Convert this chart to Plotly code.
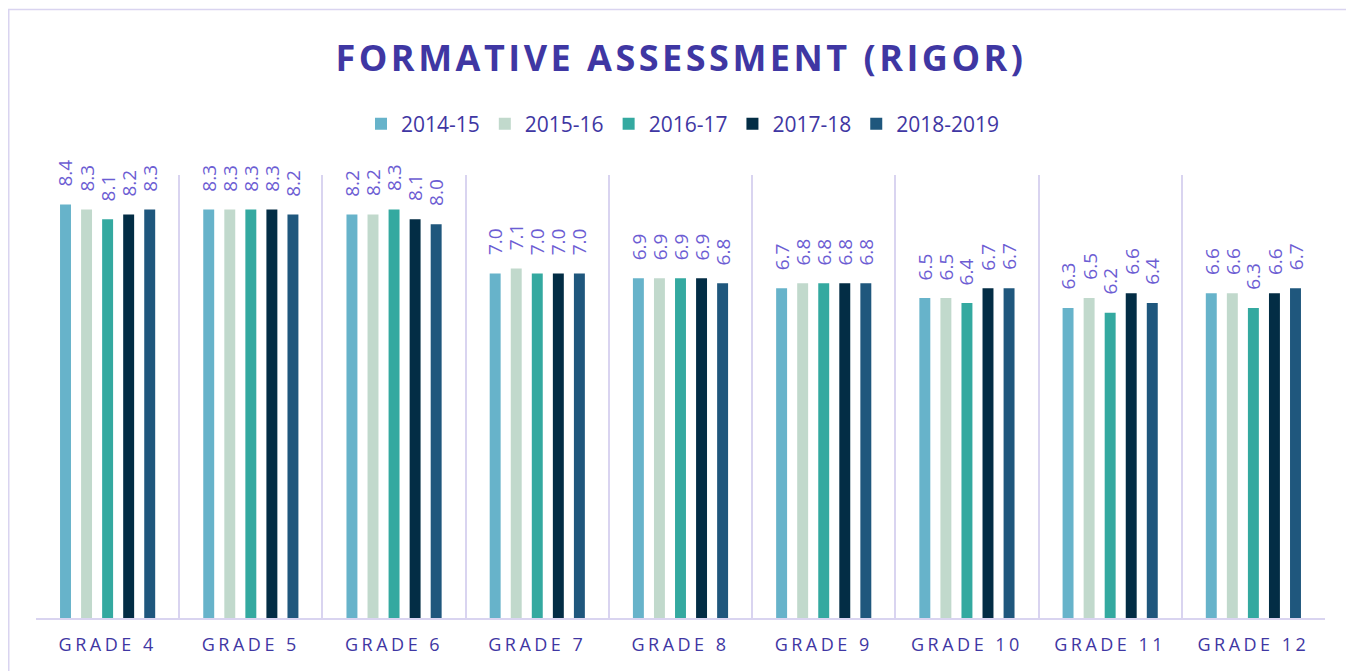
import plotly.graph_objects as go

categories = ["GRADE 4", "GRADE 5", "GRADE 6", "GRADE 7", "GRADE 8",
              "GRADE 9", "GRADE 10", "GRADE 11", "GRADE 12"]
series_names = ["2014-15", "2015-16", "2016-17", "2017-18", "2018-2019"]
v_2014_15 = [8.4, 8.3, 8.2, 7.0, 6.9, 6.7, 6.5, 6.3, 6.6]
v_2015_16 = [8.3, 8.3, 8.2, 7.1, 6.9, 6.8, 6.5, 6.5, 6.6]
v_2016_17 = [8.1, 8.3, 8.3, 7.0, 6.9, 6.8, 6.4, 6.2, 6.3]
v_2017_18 = [8.2, 8.3, 8.1, 7.0, 6.9, 6.8, 6.7, 6.6, 6.6]
v_2018_2019 = [8.3, 8.2, 8.0, 7.0, 6.8, 6.8, 6.7, 6.4, 6.7]
series_values = [v_2014_15, v_2015_16, v_2016_17, v_2017_18, v_2018_2019]
colors = ["#67B3CA", "#C1D9CC", "#34A9A0", "#032D45", "#1F577D"]

TITLE_C = "#3F37A3"
LABEL_C = "#6C5DD3"
GRID_C = "#D9D4F0"

# the page body adds an 8px offset; figure sized to fit the window
W, H = 1346, 663
ml, mr, mt, mb = 28, 29, 167, 53
pw, ph = W - ml - mr, H - mt - mb
bargap, bargroupgap = 0.265, 0.48
n = len(series_names)
slot = pw / len(categories) * (1 - bargap) / n

fig = go.Figure()
for name, vals, col in zip(series_names, series_values, colors):
    fig.add_trace(go.Bar(
        name=name, x=categories, y=vals, marker_color=col,
        marker_line_width=0,
    ))

for i, vals in enumerate(series_values):
    for c, v in zip(categories, vals):
        fig.add_annotation(
            x=c, y=v, xref="x", yref="y", text=f"{v:.1f}",
            showarrow=False, textangle=-90,
            xanchor="center", yanchor="bottom",
            xshift=(i - (n - 1) / 2) * slot, yshift=16,
            font=dict(family="Open Sans", size=19, color=LABEL_C),
        )

ticktext = [f'<span style="letter-spacing:3.5px">{c}</span>' for c in categories]

fig.update_layout(
    width=W, height=H,
    margin=dict(l=ml, r=mr, t=mt, b=mb),
    paper_bgcolor="white", plot_bgcolor="white",
    barmode="group", bargap=bargap, bargroupgap=bargroupgap,
    title=dict(text='<b><span style="letter-spacing:3.5px">FORMATIVE ASSESSMENT (RIGOR)</span></b>',
               x=0.5, xanchor="center", y=1 - 50 / H, yanchor="middle",
               font=dict(family="Open Sans", size=36, color=TITLE_C)),
    legend=dict(orientation="h", x=(675 - ml) / pw, xanchor="center",
                y=1 + 51 / ph, yanchor="middle",
                font=dict(family="Open Sans", size=21, color=TITLE_C),
                itemwidth=30, traceorder="normal"),
    xaxis=dict(tickmode="array", tickvals=categories, ticktext=ticktext,
               tickson="boundaries", showgrid=True, gridcolor=GRID_C,
               gridwidth=1.5, showline=True, linecolor=GRID_C, linewidth=2,
               ticks="", ticklabelstandoff=9,
               tickfont=dict(family="Open Sans", size=18, color=TITLE_C)),
    yaxis=dict(range=[0, 9], visible=False, showgrid=False),
    font=dict(family="Open Sans"),
    showlegend=True,
)

fig.add_shape(type="rect", xref="paper", yref="paper",
              x0=(0.75 - ml) / pw, x1=(W + 20 - ml) / pw,
              y0=-(mb + 20) / ph, y1=1 + (mt - 1.5) / ph,
              line=dict(color=GRID_C, width=1.5), layer="below")

fig.write_html("out.html")
